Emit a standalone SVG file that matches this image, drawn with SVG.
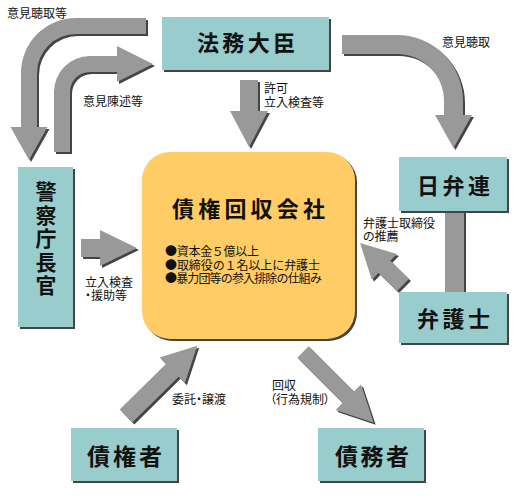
<svg xmlns="http://www.w3.org/2000/svg" xmlns:xlink="http://www.w3.org/1999/xlink" width="520" height="500" viewBox="0 0 520 500">
<style>
.box{fill:#99CCCC}
.sh{fill:#444444}
.ar{fill:#999999}
.big{font-family:"Noto Sans CJK JP","Noto Sans CJK SC",sans-serif;font-size:22px;font-weight:700;fill:#111;text-anchor:middle}
.vt{font-family:"Noto Sans CJK JP","Noto Sans CJK SC",sans-serif;font-size:21px;font-weight:700;fill:#111;writing-mode:vertical-rl;letter-spacing:2.5px}
.sm{font-family:"Noto Sans CJK JP","Noto Sans CJK SC",sans-serif;font-size:12px;fill:#111;font-feature-settings:"palt"}
.bl{font-family:"Noto Sans CJK JP","Noto Sans CJK SC",sans-serif;font-size:12px;fill:#111}
</style>
<defs>
<path id="pA" d="M146,18 H76 A55,55 0 0 0 21,73 V127 H10.5 L29,160 L47.5,127 H37 V73 A39,39 0 0 1 76,34 H146 Z"/>
<path id="pB" d="M54,152 V92 A36,36 0 0 1 90,56 H117 V46 L153,64 L117,82 V72 H90 A20,20 0 0 0 70,92 V152 Z"/>
<path id="pC" d="M240,80 H258 V111 H268 L249,147 L230,111 H240 Z"/>
<path id="pD" d="M342,35 H397 A66,66 0 0 1 463,101 V115 H472 L453.5,148 L435,115 H444 V101 A47,47 0 0 0 397,54 H342 Z"/>
<path id="pE" d="M81,239 H100 V230 L137,248 L100,266 V257 H81 Z"/>
<path id="pF" d="M0,-8.5 H26 V-18 L60,0 L26,18 V8.5 H0 Z" transform="translate(403,285) rotate(224.3)"/>
<path id="pG" d="M0,-9 H65 V-18 L100,0 L65,18 V9 H0 Z" transform="translate(126,416) rotate(-44.6)"/>
<path id="pH" d="M0,-8 H64 V-18 L100,0 L64,18 V8 H0 Z" transform="translate(303,352) rotate(45)"/>
</defs>

<g id="connectors">
  <g id="bar-nichibenren-bengoshi">
    <rect class="sh" x="447" y="211" width="19" height="81"/>
    <rect class="ar" x="445" y="211" width="19" height="81"/>
  </g>
  <g id="arrow-ikenchoshu-to"><use class="sh" xlink:href="#pA" href="#pA" transform="translate(2,2)"/><use class="ar" xlink:href="#pA" href="#pA"/></g>
  <g id="arrow-ikenchinjutsu"><use class="sh" xlink:href="#pB" href="#pB" transform="translate(2,2)"/><use class="ar" xlink:href="#pB" href="#pB"/></g>
  <g id="arrow-kyoka"><use class="sh" xlink:href="#pC" href="#pC" transform="translate(2,2)"/><use class="ar" xlink:href="#pC" href="#pC"/></g>
  <g id="arrow-ikenchoshu"><use class="sh" xlink:href="#pD" href="#pD" transform="translate(2,2)"/><use class="ar" xlink:href="#pD" href="#pD"/></g>
  <g id="arrow-keisatsu"><use class="sh" xlink:href="#pE" href="#pE" transform="translate(2,2)"/><use class="ar" xlink:href="#pE" href="#pE"/></g>
  <g id="arrow-suisen"><use class="sh" xlink:href="#pF" href="#pF" transform="translate(2,2)"/><use class="ar" xlink:href="#pF" href="#pF"/></g>
  <g id="arrow-itaku"><use class="sh" xlink:href="#pG" href="#pG" transform="translate(2,2)"/><use class="ar" xlink:href="#pG" href="#pG"/></g>
  <g id="arrow-kaishu"><use class="sh" xlink:href="#pH" href="#pH" transform="translate(2,2)"/><use class="ar" xlink:href="#pH" href="#pH"/></g>

  <text class="sm" x="7" y="18">意見聴取等</text>
  <text class="sm" x="83" y="106">意見陳述等</text>
  <text class="sm" x="264" y="93">許可<tspan x="264" dy="14">立入検査等</tspan></text>
  <text class="sm" x="442" y="47">意見聴取</text>
  <text class="sm" x="85" y="287">立入検査<tspan x="85" dy="13">・援助等</tspan></text>
  <text class="sm" x="363" y="228">弁護士取締役<tspan x="363" dy="13">の推薦</tspan></text>
  <text class="sm" x="172" y="404">委託・譲渡</text>
  <text class="sm" x="272" y="390">回収<tspan x="270" dy="14">（行為規制）</tspan></text>
</g>

<g id="houmu-daijin">
  <rect class="sh" x="164" y="19" width="167" height="53"/>
  <rect class="box" x="162" y="17" width="167" height="53"/>
  <text class="big" x="246" y="51" textLength="98" lengthAdjust="spacing">法務大臣</text>
</g>

<g id="keisatsucho-chokan">
  <rect class="sh" x="20" y="169" width="55" height="160"/>
  <rect class="box" x="18" y="167" width="55" height="160"/>
  <text class="vt" x="46" y="181">警察庁長官</text>
</g>

<g id="saiken-kaishu-kaisha">
  <rect class="sh" x="144" y="154" width="213" height="187" rx="28"/>
  <rect x="142" y="152" width="213" height="187" rx="28" fill="#FFCC66"/>
  <text class="big" x="248.5" y="217" textLength="153" lengthAdjust="spacing">債権回収会社</text>
  <text class="bl" x="165" y="256"><tspan x="165" y="256" textLength="94" lengthAdjust="spacing">●資本金５億以上</tspan><tspan x="165" y="269.5" textLength="155" lengthAdjust="spacing">●取締役の１名以上に弁護士</tspan><tspan x="165" y="283" textLength="157" lengthAdjust="spacing">●暴力団等の参入排除の仕組み</tspan></text>
</g>

<g id="nichibenren">
  <rect class="sh" x="401" y="159" width="108" height="54"/>
  <rect class="box" x="399" y="157" width="108" height="54"/>
  <text class="big" x="453.5" y="194" textLength="73" lengthAdjust="spacing">日弁連</text>
</g>

<g id="bengoshi">
  <rect class="sh" x="401" y="294" width="108" height="51"/>
  <rect class="box" x="399" y="292" width="108" height="51"/>
  <text class="big" x="453.5" y="327" textLength="73" lengthAdjust="spacing">弁護士</text>
</g>

<g id="saikensha">
  <rect class="sh" x="73" y="430" width="106" height="53"/>
  <rect class="box" x="71" y="428" width="106" height="53"/>
  <text class="big" x="124.5" y="465" textLength="75" lengthAdjust="spacing" style="font-size:23px">債権者</text>
</g>

<g id="saimusha">
  <rect class="sh" x="320" y="430" width="106" height="53"/>
  <rect class="box" x="318" y="428" width="106" height="53"/>
  <text class="big" x="372" y="465" textLength="74" lengthAdjust="spacing" style="font-size:23px">債務者</text>
</g>
</svg>
